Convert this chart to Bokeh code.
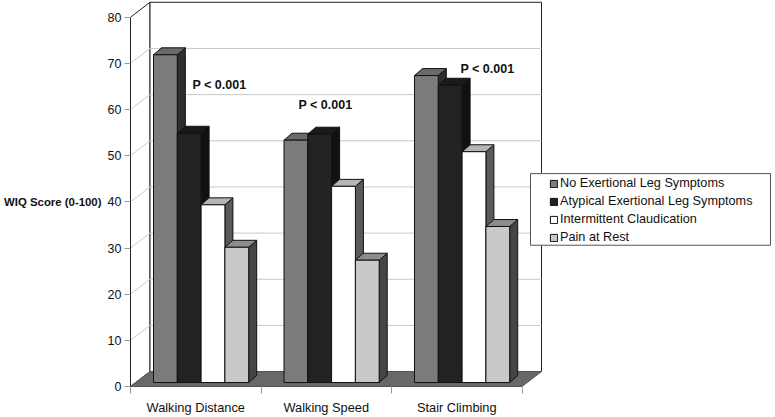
from bokeh.plotting import figure
from bokeh.models import Range1d, FixedTicker, Legend, LegendItem, ColumnDataSource, LinearAxis
from bokeh.core.properties import value
from bokeh.embed import file_html
from bokeh.resources import INLINE

categories = ["Walking Distance", "Walking Speed", "Stair Climbing"]
series_names = ["No Exertional Leg Symptoms", "Atypical Exertional Leg Symptoms",
                "Intermittent Claudication", "Pain at Rest"]
no_exertional = [71, 52.5, 66.5]
atypical = [54, 53.8, 64.4]
intermittent = [38.5, 42.5, 50]
pain_at_rest = [29.3, 26.5, 33.8]
all_series = [no_exertional, atypical, intermittent, pain_at_rest]
y_ticks = list(range(0, 90, 10))
y_title = "WIQ Score (0-100)"
annotation_text = ["P < 0.001", "P < 0.001", "P < 0.001"]

FRONT = ["#7b7b7b", "#222222", "#ffffff", "#c9c9c9"]
SIDE = ["#2e2e2e", "#111111", "#5a5a5a", "#454545"]
TOP = ["#6a6a6a", "#1a1a1a", "#b5b5b5", "#8c8c8c"]

PX_X, PX_Y = 130.5, 4.64          # pixels per category / per y unit
WALL_DX, WALL_DY = 19.5 / PX_X, 15 / PX_Y
BAR_DX, BAR_DY = 8 / PX_X, 7 / PX_Y
BAR_BASE = 4 / PX_Y
BAR_START = 23 / PX_X
BAR_W = 23.8 / PX_X
WIDTH, HEIGHT = 775, 417
LEFT, BOTTOM = 130, 29

p = figure(width=WIDTH, height=HEIGHT, output_backend="svg", toolbar_location=None,
           x_range=Range1d(0, (WIDTH - LEFT) / PX_X),
           y_range=Range1d(0, (HEIGHT - BOTTOM) / PX_Y),
           min_border_left=LEFT, min_border_bottom=BOTTOM, min_border_top=0, min_border_right=0,
           margin=(0, 0, 0, 0))
p.grid.visible = False
p.outline_line_color = None

def px_x(x):
    return (x - LEFT) / PX_X

def px_y(y):
    return (HEIGHT - BOTTOM - y) / PX_Y

# walls and floor
top_y = y_ticks[-1]
n = len(categories)
p.patch([0, WALL_DX, WALL_DX, 0], [0, WALL_DY, top_y + WALL_DY, top_y],
        fill_color="white", line_color="#222222", line_width=1)
p.patch([WALL_DX, n + WALL_DX, n + WALL_DX, WALL_DX],
        [WALL_DY, WALL_DY, top_y + WALL_DY, top_y + WALL_DY],
        fill_color="white", line_color="#222222", line_width=1)
for t in y_ticks[1:-1]:
    p.line([0, WALL_DX, n + WALL_DX], [t, t + WALL_DY, t + WALL_DY],
           line_color="#c8c8c8", line_width=1)
p.patch([0, WALL_DX, n + WALL_DX, n], [0, WALL_DY, WALL_DY, 0],
        fill_color="#686868", line_color="#555555", line_width=1)

# bars
renderers = []
for s, vals in enumerate(all_series):
    x0 = [c + BAR_START + s * BAR_W for c in range(n)]
    x1 = [a + BAR_W for a in x0]
    tops = [v + BAR_BASE for v in vals]
    side_xs = [[b, b + BAR_DX, b + BAR_DX, b] for b in x1]
    side_ys = [[BAR_BASE, BAR_BASE + BAR_DY, t + BAR_DY, t] for t in tops]
    top_xs = [[a, a + BAR_DX, b + BAR_DX, b] for a, b in zip(x0, x1)]
    top_ys = [[t, t + BAR_DY, t + BAR_DY, t] for t in tops]
    p.patches(side_xs, side_ys, fill_color=SIDE[s], line_color="#111111", line_width=1)
    p.patches(top_xs, top_ys, fill_color=TOP[s], line_color="#111111", line_width=1)
    src = ColumnDataSource(dict(left=x0, right=x1, top=tops, bottom=[BAR_BASE] * n))
    r = p.quad(left="left", right="right", top="top", bottom="bottom", source=src,
               fill_color=FRONT[s], line_color="#111111", line_width=1)
    renderers.append(r)

# annotations
ann_px = [(192, 85), (298, 105), (460, 69)]
p.text([px_x(x) for x, _ in ann_px], [px_y(y) for _, y in ann_px],
       text=annotation_text, text_font=value("Liberation Sans"), text_font_style="bold",
       text_font_size="12.5px", text_color="#111111", text_baseline="middle", text_align="left")

# axes
ya = p.yaxis[0]
ya.ticker = FixedTicker(ticks=y_ticks)
ya.bounds = (0, 80)
ya.major_tick_out = 6
ya.major_tick_in = 0
ya.minor_tick_out = 0
ya.minor_tick_in = 0
ya.major_tick_line_color = "#999999"
ya.axis_line_color = "#222222"
ya.major_label_standoff = 3
ya.major_label_text_font = "Liberation Sans"
ya.major_label_text_font_size = "12.5px"
ya.major_label_text_color = "#111111"

# the y title sits level with the 40 tick, so it is carried by a second axis
title_axis = LinearAxis(ticker=FixedTicker(ticks=[40]), major_label_overrides={40: y_title},
                        axis_line_color=None, major_tick_line_color=None,
                        minor_tick_line_color=None, major_tick_out=0, major_tick_in=0,
                        minor_tick_out=0, minor_tick_in=0, major_label_standoff=3,
                        major_label_text_font="Liberation Sans", major_label_text_font_style="bold",
                        major_label_text_font_size="11.4px", major_label_text_color="#111111")
p.add_layout(title_axis, "left")

xa = p.xaxis[0]
xa.ticker = FixedTicker(ticks=[i + 0.5 for i in range(n)], minor_ticks=list(range(n + 1)))
xa.major_label_overrides = {i + 0.5: c for i, c in enumerate(categories)}
xa.bounds = (0, n)
xa.major_tick_out = 0
xa.major_tick_in = 0
xa.minor_tick_out = 7
xa.minor_tick_in = 0
xa.minor_tick_line_color = "#999999"
xa.axis_line_color = "#555555"
xa.major_label_standoff = 6
xa.major_label_text_font = "Liberation Sans"
xa.major_label_text_font_size = "12.8px"
xa.major_label_text_color = "#111111"

# legend box and legend
p.quad(left=[px_x(530)], right=[px_x(770)], top=[px_y(174)], bottom=[px_y(246)],
       fill_color="white", line_color="#555555", line_width=1)
legend = Legend(items=[LegendItem(label=name, renderers=[r]) for name, r in zip(series_names, renderers)],
                location=(419, 142), glyph_width=9, glyph_height=9, spacing=4, padding=0,
                margin=0, label_text_font="Liberation Sans", label_text_font_size="12.7px",
                label_text_color="#111111", label_standoff=2, label_height=11,
                border_line_color=None, background_fill_alpha=0)
p.add_layout(legend)

open("out.html", "w").write(file_html(p, INLINE))
